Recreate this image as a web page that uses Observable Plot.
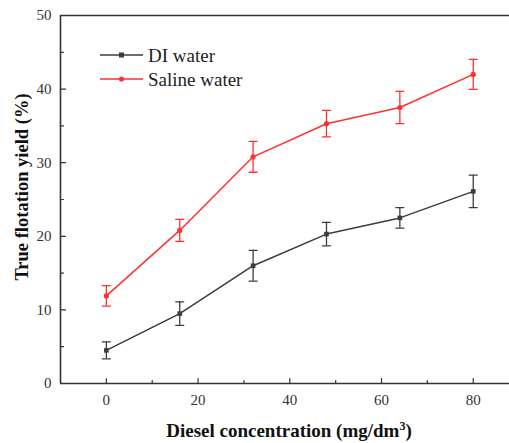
<!DOCTYPE html>
<html>
<head>
<meta charset="utf-8">
<script src="https://cdn.jsdelivr.net/npm/d3@7"></script>
<script src="https://cdn.jsdelivr.net/npm/@observablehq/plot@0.6"></script>
<style>
  html, body { margin: 0; padding: 0; background: #fff; }
  svg { display: block; }
</style>
</head>
<body>
<div id="chart"></div>
<script>
const concentrations = [0, 16, 32, 48, 64, 80];
const diValues = [4.5, 9.5, 16.0, 20.3, 22.5, 26.1];
const diErrors = [1.15, 1.6, 2.1, 1.6, 1.4, 2.2];
const salineValues = [11.9, 20.8, 30.8, 35.3, 37.5, 42.0];
const salineErrors = [1.4, 1.5, 2.1, 1.8, 2.2, 2.05];
const seriesNames = ["DI water", "Saline water"];
const seriesColors = ["#3c3c3c", "#ff3030"];
const xMajorTicks = [0, 20, 40, 60, 80];
const xMinorTicks = [10, 30, 50, 70];
const yMajorTicks = [0, 10, 20, 30, 40, 50];
const yMinorTicks = [5, 15, 25, 35, 45];
const xDomain = [-10, 90];
const yDomain = [0, 50];

const rows = [];
concentrations.forEach((c, i) => {
  rows.push({series: seriesNames[0], x: c, y: diValues[i], lo: diValues[i] - diErrors[i], hi: diValues[i] + diErrors[i]});
  rows.push({series: seriesNames[1], x: c, y: salineValues[i], lo: salineValues[i] - salineErrors[i], hi: salineValues[i] + salineErrors[i]});
});
const di = rows.filter(d => d.series === seriesNames[0]);
const sal = rows.filter(d => d.series === seriesNames[1]);

const lineShape = {draw(context, l) { context.moveTo(0, 0); context.lineTo(0, -l); }};
const axisColor = "#333";
const font = "Liberation Serif";

function seriesMarks(data, color, symbol) {
  return [
    Plot.ruleX(data, {x: "x", y1: "lo", y2: "hi", stroke: color, strokeWidth: 1.3}),
    Plot.vector(data, {x: "x", y: "hi", length: 8, rotate: 90, anchor: "middle", shape: lineShape, stroke: color, strokeWidth: 1.3}),
    Plot.vector(data, {x: "x", y: "lo", length: 8, rotate: 90, anchor: "middle", shape: lineShape, stroke: color, strokeWidth: 1.3}),
    Plot.line(data, {x: "x", y: "y", stroke: color, strokeWidth: 1.5}),
    Plot.dot(data, {x: "x", y: "y", fill: color, stroke: "none", r: 2.6, symbol})
  ];
}

const chart = Plot.plot({
  width: 509,
  height: 443,
  marginTop: 15,
  marginBottom: 60,
  marginLeft: 60,
  marginRight: 0,
  style: {fontFamily: font, fontSize: "15px", color: axisColor, background: "#fff"},
  x: {domain: xDomain, range: [60, 518.6]},
  y: {domain: yDomain},
  marks: [
    Plot.axisX({ticks: xMajorTicks, tickSize: 0, tickPadding: 11, label: null, fontSize: 15, fontFamily: font}),
    Plot.axisY({ticks: yMajorTicks, tickSize: 0, tickPadding: 9, label: null, fontSize: 15, fontFamily: font}),
    Plot.ruleY([yDomain[0]], {stroke: axisColor, strokeWidth: 1.6}),
    Plot.ruleY([yDomain[1]], {stroke: axisColor, strokeWidth: 1.6}),
    Plot.ruleX([xDomain[0]], {stroke: axisColor, strokeWidth: 1.6}),
    Plot.vector(yMajorTicks, {x: xDomain[0], y: d => d, length: 5, rotate: 90, anchor: "start", shape: lineShape, stroke: axisColor, strokeWidth: 1.2}),
    Plot.vector(yMinorTicks, {x: xDomain[0], y: d => d, length: 3, rotate: 90, anchor: "start", shape: lineShape, stroke: axisColor, strokeWidth: 1.2}),
    Plot.vector(xMajorTicks, {x: d => d, y: yDomain[0], length: 5, rotate: 0, anchor: "start", shape: lineShape, stroke: axisColor, strokeWidth: 1.2}),
    Plot.vector(xMinorTicks, {x: d => d, y: yDomain[0], length: 3, rotate: 0, anchor: "start", shape: lineShape, stroke: axisColor, strokeWidth: 1.2}),
    ...seriesMarks(di, seriesColors[0], "square"),
    ...seriesMarks(sal, seriesColors[1], "circle")
  ]
});

document.getElementById("chart").appendChild(chart);

const svg = d3.select(chart);
// Axis titles
const xt = svg.append("text")
  .attr("x", 289).attr("y", 437)
  .attr("text-anchor", "middle")
  .attr("font-family", font).attr("font-weight", "bold").attr("font-size", 19)
  .attr("fill", "#111");
xt.append("tspan").text("Diesel concentration (mg/dm");
xt.append("tspan").attr("dy", -7).attr("font-size", 12).text("3");
xt.append("tspan").attr("dy", 7).text(")");

svg.append("text")
  .attr("transform", "translate(28,187) rotate(-90)")
  .attr("text-anchor", "middle")
  .attr("font-family", font).attr("font-weight", "bold").attr("font-size", 18.5)
  .attr("fill", "#111")
  .text("True flotation yield (%)");

// Legend
const legend = svg.append("g");
seriesNames.forEach((name, i) => {
  const y = 55 + i * 24;
  const g = legend.append("g");
  g.append("line").attr("x1", 100).attr("x2", 143).attr("y1", y).attr("y2", y)
    .attr("stroke", seriesColors[i]).attr("stroke-width", 1.5);
  if (i === 0) {
    g.append("rect").attr("x", 119).attr("y", y - 2.5).attr("width", 5).attr("height", 5).attr("fill", seriesColors[i]);
  } else {
    g.append("circle").attr("cx", 121.5).attr("cy", y).attr("r", 2.6).attr("fill", seriesColors[i]);
  }
  g.append("text").attr("x", 148).attr("y", y + 6.5)
    .attr("text-anchor", "start")
    .attr("font-family", font).attr("font-size", 19).attr("fill", "#222")
    .text(name);
});
</script>
</body>
</html>
